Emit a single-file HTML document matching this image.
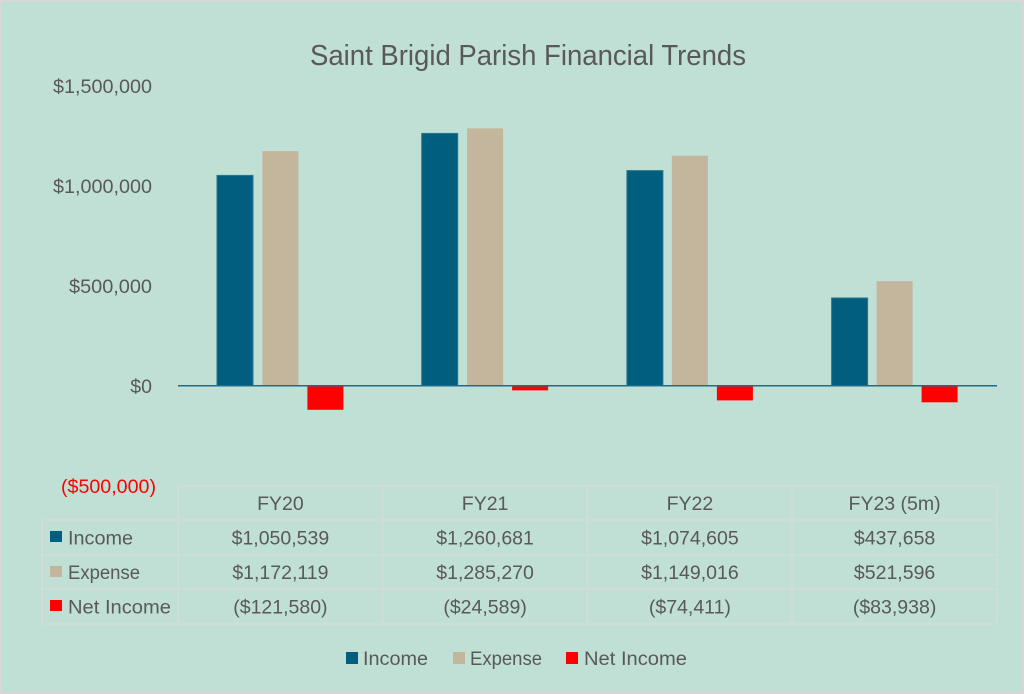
<!DOCTYPE html>
<html>
<head>
<meta charset="utf-8">
<style>
  html, body { margin:0; padding:0; background:#C0DFD5; }
  svg { display:block; }
  text { font-family: "Liberation Sans", sans-serif; fill:#595959; }
</style>
</head>
<body>
<svg width="1024" height="694" viewBox="0 0 1024 694" xmlns="http://www.w3.org/2000/svg">
  <rect x="0" y="0" width="1024" height="694" fill="#C0DFD5"/>
  <!-- outer border -->
  <rect x="0.75" y="0.75" width="1021.5" height="691.5" fill="none" stroke="#D9D9D9" stroke-width="1.5"/>
  <rect x="1021.5" y="0" width="2.5" height="694" fill="#D5D8D6"/>
  <rect x="0" y="691.5" width="1024" height="2.5" fill="#D5D8D6"/>

  <!-- title -->
  <text x="310" y="65" font-size="29" textLength="436" lengthAdjust="spacingAndGlyphs">Saint Brigid Parish Financial Trends</text>

  <!-- y-axis labels -->
  <g font-size="19.5" text-anchor="end">
    <text x="152" y="93" textLength="99" lengthAdjust="spacingAndGlyphs">$1,500,000</text>
    <text x="152" y="193" textLength="99" lengthAdjust="spacingAndGlyphs">$1,000,000</text>
    <text x="152" y="293" textLength="83" lengthAdjust="spacingAndGlyphs">$500,000</text>
    <text x="152" y="393">$0</text>
    <text x="156" y="493" style="fill:#FF0000" textLength="95" lengthAdjust="spacingAndGlyphs">($500,000)</text>
  </g>

  <!-- bars -->
  <g stroke-width="1">
    <!-- FY20 -->
    <rect x="217" y="175.4" width="36" height="210.1" fill="#025E7E" stroke="#2A7690"/>
    <rect x="262.4" y="151.1" width="36" height="234.4" fill="#C4B59D"/>
    <rect x="307.4" y="385.5" width="36" height="24.3" fill="#FF0000"/>
    <!-- FY21 -->
    <rect x="421.7" y="133.4" width="36" height="252.1" fill="#025E7E" stroke="#2A7690"/>
    <rect x="467.1" y="128.4" width="36" height="257.1" fill="#C4B59D"/>
    <rect x="512.1" y="385.5" width="36" height="4.9" fill="#FF0000"/>
    <!-- FY22 -->
    <rect x="626.9" y="170.6" width="36" height="214.9" fill="#025E7E" stroke="#2A7690"/>
    <rect x="671.9" y="155.7" width="36" height="229.8" fill="#C4B59D"/>
    <rect x="716.9" y="385.5" width="36" height="14.9" fill="#FF0000"/>
    <!-- FY23 -->
    <rect x="831.6" y="298" width="36" height="87.5" fill="#025E7E" stroke="#2A7690"/>
    <rect x="876.6" y="281.2" width="36" height="104.3" fill="#C4B59D"/>
    <rect x="921.6" y="385.5" width="36" height="16.8" fill="#FF0000"/>
  </g>

  <!-- zero axis line -->
  <line x1="178" y1="385.75" x2="997" y2="385.75" stroke="#1F6C88" stroke-width="1.6"/>

  <!-- data table grid -->
  <g stroke="#D6DCD8" stroke-width="1.5" fill="none">
    <line x1="178" y1="486" x2="997" y2="486"/>
    <line x1="42" y1="520" x2="997" y2="520"/>
    <line x1="42" y1="555" x2="997" y2="555"/>
    <line x1="42" y1="589" x2="997" y2="589"/>
    <line x1="42" y1="624" x2="997" y2="624"/>
    <line x1="42" y1="520" x2="42" y2="624"/>
    <line x1="178" y1="486" x2="178" y2="624"/>
    <line x1="383" y1="486" x2="383" y2="624"/>
    <line x1="587.5" y1="486" x2="587.5" y2="624"/>
    <line x1="792" y1="486" x2="792" y2="624"/>
    <line x1="997" y1="486" x2="997" y2="624"/>
  </g>

  <!-- table header -->
  <g font-size="19.5" text-anchor="middle">
    <text x="280.4" y="510">FY20</text>
    <text x="485.1" y="510">FY21</text>
    <text x="689.9" y="510">FY22</text>
    <text x="894.6" y="510">FY23 (5m)</text>

    <text x="280.4" y="544.5">$1,050,539</text>
    <text x="485.1" y="544.5">$1,260,681</text>
    <text x="689.9" y="544.5">$1,074,605</text>
    <text x="894.6" y="544.5">$437,658</text>

    <text x="280.4" y="579">$1,172,119</text>
    <text x="485.1" y="579">$1,285,270</text>
    <text x="689.9" y="579">$1,149,016</text>
    <text x="894.6" y="579">$521,596</text>

    <text x="280.4" y="613.5">($121,580)</text>
    <text x="485.1" y="613.5">($24,589)</text>
    <text x="689.9" y="613.5">($74,411)</text>
    <text x="894.6" y="613.5">($83,938)</text>
  </g>

  <!-- table row labels -->
  <rect x="50" y="531" width="12" height="11" fill="#025E7E"/>
  <rect x="50" y="566" width="12" height="11" fill="#C4B59D"/>
  <rect x="50" y="600" width="12" height="11" fill="#FF0000"/>
  <g font-size="19.5">
    <text x="68" y="544.5" textLength="65" lengthAdjust="spacingAndGlyphs">Income</text>
    <text x="68" y="579" textLength="72" lengthAdjust="spacingAndGlyphs">Expense</text>
    <text x="68" y="613.5" textLength="103" lengthAdjust="spacingAndGlyphs">Net Income</text>
  </g>

  <!-- legend -->
  <rect x="346" y="652" width="12" height="12" fill="#025E7E"/>
  <rect x="453" y="652" width="12" height="12" fill="#C4B59D"/>
  <rect x="566" y="652" width="12" height="12" fill="#FF0000"/>
  <g font-size="19.5">
    <text x="363" y="665" textLength="65" lengthAdjust="spacingAndGlyphs">Income</text>
    <text x="470" y="665" textLength="72" lengthAdjust="spacingAndGlyphs">Expense</text>
    <text x="584" y="665" textLength="103" lengthAdjust="spacingAndGlyphs">Net Income</text>
  </g>
</svg>
</body>
</html>
